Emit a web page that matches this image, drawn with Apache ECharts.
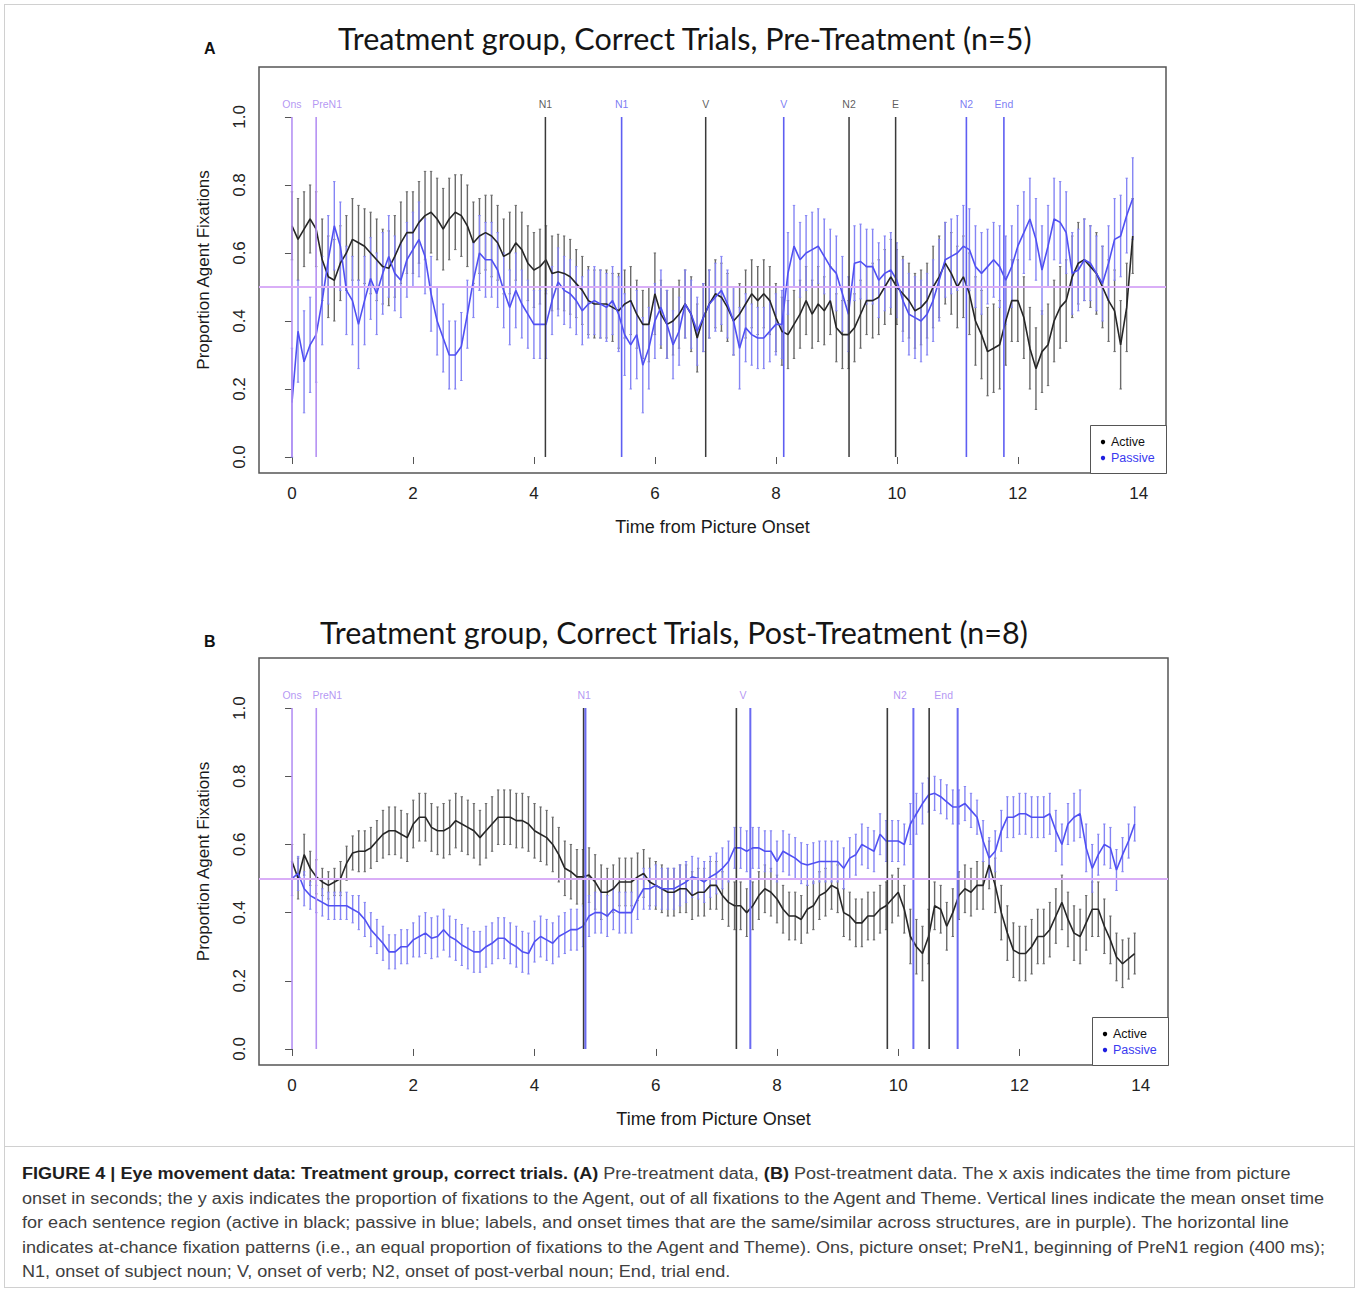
<!DOCTYPE html>
<html><head><meta charset="utf-8">
<script src="https://cdn.jsdelivr.net/npm/echarts@6/dist/echarts.min.js"></script>
<style>
html,body{margin:0;padding:0;background:#fff;}
#chart{position:absolute;left:0;top:0;width:1360px;height:1145px;}
#frame{position:absolute;left:4px;top:4px;width:1351px;height:1284px;border:1px solid #d0d0d0;box-sizing:border-box;pointer-events:none;}
#sep{position:absolute;left:4px;top:1146px;width:1351px;border-top:1px solid #d0d0d0;}
#caption{position:absolute;left:22px;top:1162px;font-family:"Liberation Sans",Arial,sans-serif;font-size:16px;line-height:24.5px;color:#404040;white-space:nowrap;transform-origin:0 0;}
#caption b{color:#1e1e1e;}
</style></head>
<body>
<div id="chart"></div>
<div id="frame"></div>
<div id="sep"></div>
<div id="caption">
<div id="cap2ref"><b>FIGURE 4 | Eye movement data: Treatment group, correct trials. (A)</b> Pre-treatment data, <b>(B)</b> Post-treatment data. The x axis indicates the time from picture</div>
<div id="capline2">onset in seconds; the y axis indicates the proportion of fixations to the Agent, out of all fixations to the Agent and Theme. Vertical lines indicate the mean onset time</div>
<div>for each sentence region (active in black; passive in blue; labels, and onset times that are the same/similar across structures, are in purple). The horizontal line</div>
<div>indicates at-chance fixation patterns (i.e., an equal proportion of fixations to the Agent and Theme). Ons, picture onset; PreN1, beginning of PreN1 region (400 ms);</div>
<div>N1, onset of subject noun; V, onset of verb; N2, onset of post-verbal noun; End, trial end.</div>
</div>
<script>
// ---------------- DATA ----------------
const TIME_STEP = 0.1;          // sampling step of the eye-tracking bins (s)
const N_BINS = 140;             // bins 0.0 .. 13.9 s
const TIME = Array.from({length: N_BINS}, (_, i) => +(i * TIME_STEP).toFixed(1));

const X_TICKS = [0, 2, 4, 6, 8, 10, 12, 14];
const Y_TICKS = [0.0, 0.2, 0.4, 0.6, 0.8, 1.0];
const CHANCE = 0.5;

const TITLE_A = 'Treatment group, Correct Trials, Pre-Treatment (n=5)';
const TITLE_B = 'Treatment group, Correct Trials, Post-Treatment (n=8)';
const X_NAME = 'Time from Picture Onset';
const Y_NAME = 'Proportion Agent Fixations';
const SERIES_NAMES = ['Active', 'Passive'];

// Panel A (pre-treatment) means
const A_ACTIVE = [
 0.68,0.64,0.67,0.70,0.67,0.58,0.53,0.52,0.57,0.60,
 0.64,0.63,0.62,0.60,0.58,0.56,0.555,0.59,0.63,0.66,
 0.66,0.69,0.71,0.72,0.70,0.67,0.70,0.72,0.71,0.68,
 0.63,0.65,0.66,0.65,0.63,0.59,0.60,0.63,0.61,0.57,
 0.55,0.56,0.58,0.54,0.545,0.54,0.53,0.51,0.49,0.46,
 0.45,0.45,0.45,0.44,0.43,0.45,0.46,0.42,0.39,0.39,
 0.48,0.42,0.39,0.40,0.42,0.45,0.42,0.35,0.41,0.45,
 0.48,0.47,0.44,0.40,0.42,0.45,0.48,0.46,0.48,0.46,
 0.41,0.37,0.36,0.39,0.42,0.46,0.42,0.45,0.43,0.46,
 0.38,0.36,0.36,0.38,0.42,0.46,0.46,0.47,0.50,0.53,
 0.50,0.48,0.46,0.43,0.44,0.46,0.50,0.53,0.57,0.54,
 0.50,0.53,0.48,0.40,0.36,0.31,0.32,0.33,0.40,0.46,
 0.46,0.41,0.32,0.26,0.31,0.33,0.40,0.44,0.46,0.53,
 0.57,0.58,0.56,0.54,0.50,0.46,0.43,0.33,0.44,0.65];
const A_PASSIVE = [
 0.16,0.37,0.28,0.33,0.36,0.46,0.58,0.68,0.62,0.49,
 0.46,0.39,0.46,0.525,0.48,0.54,0.59,0.54,0.52,0.58,
 0.61,0.64,0.59,0.48,0.40,0.35,0.30,0.30,0.325,0.42,
 0.52,0.60,0.58,0.58,0.55,0.49,0.44,0.49,0.45,0.42,
 0.39,0.39,0.39,0.46,0.515,0.49,0.48,0.46,0.43,0.45,
 0.46,0.45,0.44,0.46,0.42,0.36,0.33,0.36,0.27,0.32,
 0.40,0.44,0.39,0.33,0.37,0.45,0.42,0.37,0.41,0.45,
 0.47,0.49,0.45,0.40,0.32,0.38,0.36,0.35,0.35,0.37,
 0.39,0.39,0.54,0.62,0.58,0.60,0.61,0.62,0.59,0.56,
 0.54,0.48,0.42,0.57,0.575,0.56,0.56,0.52,0.54,0.55,
 0.52,0.46,0.42,0.41,0.40,0.42,0.46,0.52,0.58,0.59,
 0.60,0.62,0.61,0.56,0.54,0.56,0.58,0.56,0.52,0.56,
 0.62,0.66,0.70,0.64,0.55,0.62,0.70,0.69,0.66,0.54,
 0.55,0.58,0.57,0.54,0.51,0.57,0.64,0.65,0.71,0.76];
// Panel A error-bar half widths
const A_ACTIVE_ERR = [
 0.10,0.12,0.11,0.10,0.11,0.12,0.12,0.12,0.11,0.11,
 0.12,0.11,0.11,0.12,0.12,0.11,0.11,0.12,0.12,0.12,
 0.12,0.12,0.13,0.12,0.12,0.12,0.12,0.11,0.12,0.12,
 0.12,0.11,0.11,0.12,0.11,0.11,0.12,0.11,0.11,0.11,
 0.11,0.11,0.10,0.11,0.11,0.11,0.11,0.10,0.10,0.10,
 0.10,0.10,0.10,0.10,0.11,0.10,0.10,0.10,0.10,0.11,
 0.12,0.10,0.10,0.10,0.10,0.10,0.11,0.10,0.10,0.10,
 0.10,0.10,0.10,0.10,0.09,0.10,0.10,0.10,0.10,0.10,
 0.10,0.10,0.10,0.10,0.10,0.10,0.10,0.11,0.10,0.10,
 0.10,0.10,0.10,0.10,0.10,0.10,0.11,0.11,0.11,0.11,
 0.11,0.11,0.11,0.11,0.11,0.11,0.12,0.12,0.12,0.12,
 0.12,0.12,0.12,0.13,0.13,0.13,0.13,0.13,0.13,0.12,
 0.12,0.12,0.12,0.12,0.12,0.12,0.12,0.12,0.12,0.12,
 0.12,0.12,0.12,0.12,0.12,0.12,0.12,0.13,0.13,0.11];
const A_PASSIVE_ERR = [
 0.16,0.15,0.15,0.14,0.14,0.13,0.13,0.13,0.13,0.13,
 0.13,0.13,0.13,0.12,0.12,0.12,0.12,0.11,0.11,0.11,
 0.11,0.11,0.11,0.11,0.10,0.10,0.10,0.10,0.10,0.10,
 0.11,0.11,0.11,0.11,0.11,0.11,0.11,0.11,0.10,0.10,
 0.10,0.10,0.10,0.10,0.10,0.10,0.10,0.10,0.10,0.10,
 0.10,0.10,0.10,0.10,0.11,0.12,0.13,0.13,0.14,0.12,
 0.11,0.11,0.10,0.10,0.10,0.10,0.10,0.10,0.10,0.10,
 0.10,0.10,0.10,0.10,0.12,0.10,0.09,0.09,0.09,0.09,
 0.09,0.10,0.12,0.12,0.11,0.11,0.11,0.11,0.11,0.11,
 0.11,0.11,0.11,0.11,0.11,0.11,0.11,0.11,0.11,0.11,
 0.11,0.12,0.12,0.12,0.12,0.12,0.12,0.12,0.11,0.11,
 0.11,0.12,0.12,0.12,0.12,0.11,0.11,0.12,0.13,0.12,
 0.12,0.12,0.12,0.12,0.13,0.12,0.12,0.12,0.12,0.12,
 0.12,0.12,0.11,0.11,0.11,0.11,0.12,0.12,0.11,0.12];

// Panel B (post-treatment) means
const B_ACTIVE = [
 0.55,0.50,0.57,0.53,0.505,0.49,0.48,0.49,0.50,0.545,
 0.575,0.58,0.58,0.59,0.61,0.63,0.64,0.64,0.63,0.62,
 0.66,0.68,0.68,0.65,0.64,0.64,0.65,0.67,0.66,0.65,
 0.64,0.62,0.64,0.66,0.68,0.68,0.68,0.67,0.67,0.66,
 0.64,0.63,0.62,0.60,0.57,0.53,0.52,0.505,0.505,0.51,
 0.49,0.46,0.46,0.47,0.49,0.49,0.49,0.505,0.515,0.49,
 0.48,0.47,0.46,0.46,0.47,0.47,0.45,0.46,0.46,0.48,
 0.48,0.45,0.43,0.42,0.42,0.40,0.42,0.45,0.47,0.46,
 0.44,0.41,0.39,0.39,0.38,0.41,0.42,0.45,0.46,0.48,
 0.47,0.40,0.39,0.37,0.37,0.39,0.39,0.41,0.42,0.44,
 0.46,0.41,0.33,0.30,0.28,0.33,0.42,0.41,0.36,0.40,
 0.45,0.47,0.46,0.48,0.48,0.54,0.48,0.40,0.34,0.29,
 0.28,0.28,0.30,0.33,0.33,0.35,0.39,0.43,0.38,0.34,
 0.33,0.37,0.41,0.41,0.36,0.32,0.27,0.25,0.265,0.28];
const B_PASSIVE = [
 0.50,0.515,0.47,0.45,0.44,0.43,0.42,0.42,0.42,0.42,
 0.41,0.40,0.38,0.35,0.33,0.31,0.285,0.285,0.30,0.30,
 0.32,0.33,0.34,0.325,0.33,0.35,0.33,0.32,0.305,0.295,
 0.285,0.285,0.30,0.31,0.325,0.325,0.31,0.30,0.285,0.28,
 0.315,0.33,0.32,0.31,0.33,0.34,0.35,0.35,0.36,0.39,
 0.40,0.40,0.39,0.41,0.40,0.40,0.40,0.44,0.47,0.47,
 0.48,0.47,0.47,0.47,0.48,0.49,0.505,0.50,0.49,0.505,
 0.515,0.53,0.55,0.59,0.59,0.58,0.59,0.59,0.58,0.58,
 0.55,0.58,0.57,0.56,0.545,0.54,0.545,0.55,0.55,0.55,
 0.55,0.53,0.56,0.57,0.60,0.59,0.58,0.63,0.61,0.61,
 0.61,0.60,0.66,0.69,0.72,0.745,0.75,0.74,0.725,0.71,
 0.71,0.72,0.70,0.68,0.61,0.56,0.58,0.64,0.68,0.68,
 0.69,0.69,0.68,0.68,0.68,0.69,0.64,0.60,0.66,0.68,
 0.69,0.59,0.53,0.57,0.60,0.59,0.525,0.57,0.61,0.66];
const B_ACTIVE_ERR = [
 0.05,0.06,0.06,0.05,0.05,0.04,0.04,0.04,0.05,0.05,
 0.05,0.06,0.06,0.06,0.06,0.07,0.07,0.07,0.07,0.07,
 0.07,0.07,0.07,0.07,0.07,0.08,0.08,0.08,0.08,0.08,
 0.08,0.08,0.08,0.08,0.08,0.08,0.08,0.08,0.08,0.08,
 0.08,0.08,0.08,0.08,0.08,0.08,0.08,0.08,0.08,0.08,
 0.08,0.08,0.07,0.07,0.07,0.07,0.07,0.07,0.07,0.07,
 0.07,0.07,0.07,0.07,0.07,0.07,0.07,0.07,0.07,0.07,
 0.07,0.07,0.07,0.07,0.07,0.07,0.07,0.07,0.07,0.07,
 0.07,0.07,0.07,0.07,0.07,0.07,0.07,0.07,0.07,0.07,
 0.07,0.07,0.07,0.07,0.07,0.07,0.07,0.07,0.07,0.07,
 0.07,0.07,0.08,0.08,0.08,0.08,0.07,0.07,0.07,0.07,
 0.07,0.07,0.07,0.07,0.07,0.07,0.08,0.08,0.08,0.08,
 0.08,0.08,0.08,0.08,0.08,0.08,0.08,0.08,0.08,0.08,
 0.08,0.08,0.08,0.08,0.08,0.07,0.07,0.07,0.06,0.06];
const B_PASSIVE_ERR = [
 0.05,0.05,0.05,0.04,0.04,0.04,0.04,0.04,0.04,0.04,
 0.04,0.05,0.05,0.05,0.05,0.05,0.05,0.05,0.05,0.05,
 0.05,0.06,0.06,0.06,0.06,0.06,0.06,0.06,0.06,0.06,
 0.06,0.06,0.06,0.06,0.06,0.06,0.06,0.06,0.06,0.06,
 0.06,0.06,0.06,0.06,0.06,0.06,0.06,0.06,0.06,0.06,
 0.06,0.06,0.06,0.06,0.06,0.06,0.06,0.06,0.06,0.06,
 0.06,0.06,0.06,0.06,0.06,0.06,0.06,0.06,0.06,0.06,
 0.06,0.06,0.06,0.06,0.06,0.06,0.06,0.06,0.06,0.06,
 0.06,0.06,0.06,0.06,0.06,0.06,0.06,0.06,0.06,0.06,
 0.06,0.06,0.06,0.06,0.06,0.06,0.06,0.06,0.06,0.06,
 0.06,0.06,0.06,0.06,0.06,0.05,0.05,0.05,0.05,0.05,
 0.05,0.05,0.05,0.05,0.06,0.06,0.06,0.06,0.06,0.06,
 0.06,0.06,0.06,0.06,0.06,0.06,0.06,0.06,0.06,0.07,
 0.07,0.07,0.07,0.06,0.06,0.06,0.06,0.05,0.05,0.05];

// Region onset times (s)
const A_ONSET_SHARED  = [0, 0.4];
const A_ONSET_ACTIVE  = [4.19, 6.84, 9.21, 9.98];
const A_ONSET_PASSIVE = [5.45, 8.13, 11.15, 11.77];
const A_LABEL_SHARED  = ['Ons', 'PreN1'];
const A_LABEL_ACTIVE  = ['N1', 'V', 'N2', 'E'];
const A_LABEL_PASSIVE = ['N1', 'V', 'N2', 'End'];

const B_ONSET_SHARED  = [0, 0.4];
const B_ONSET_ACTIVE  = [4.81, 7.33, 9.82, 10.51];
const B_ONSET_PASSIVE = [4.84, 7.56, 10.25, 10.98];
const B_LABEL_TIMES   = [0, 0.4, 4.82, 7.44, 10.03, 10.75];
const B_LABELS        = ['Ons', 'PreN1', 'N1', 'V', 'N2', 'End'];

// ---------------- STYLE ----------------
const XMIN = -0.545, XMAX = 14.45, YMIN = -0.047, YMAX = 1.147;
const LABEL_Y = 1.038, VLINE_TOP = 1.0;
const C_BLACK = '#262626', C_BLACK_ERR = '#6a6a6a';
const C_BLUE = '#5050f2', C_BLUE_ERR = '#8585f4';
const C_PURPLE = '#b591f3', C_PURPLE_TXT = '#a27cf0', C_HLINE = '#d9aef7';
const C_BLUE_TXT = '#5a5af0', C_BLACK_TXT = '#333';
const FONT = '"Liberation Sans", Arial, sans-serif';

const chart = echarts.init(document.getElementById('chart'), null, {renderer: 'svg'});

function xAxisCfg(gi) {
  return {type: 'value', gridIndex: gi, min: XMIN, max: XMAX,
    axisLine: {show: false}, splitLine: {show: false},
    axisTick: {show: true, customValues: X_TICKS, length: 7, lineStyle: {color: '#555', width: 1}},
    axisLabel: {customValues: X_TICKS, fontSize: 17, color: '#222', margin: 12, fontFamily: FONT},
    name: X_NAME, nameLocation: 'middle', nameGap: 45,
    nameTextStyle: {fontSize: 18, color: '#1a1a1a', fontFamily: FONT}};
}
function yAxisCfg(gi) {
  return {type: 'value', gridIndex: gi, min: YMIN, max: YMAX,
    axisLine: {show: false}, splitLine: {show: false},
    axisTick: {show: true, customValues: Y_TICKS, length: 7, lineStyle: {color: '#555', width: 1}},
    axisLabel: {customValues: Y_TICKS, rotate: 90, fontSize: 17, color: '#222', margin: 11, fontFamily: FONT,
      formatter: v => v.toFixed(1)},
    name: Y_NAME, nameLocation: 'middle', nameGap: 47, nameRotate: 90,
    nameTextStyle: {fontSize: 17, color: '#1a1a1a', fontFamily: FONT}};
}
function errSeries(gi, means, errs, color) {
  return {type: 'custom', xAxisIndex: gi, yAxisIndex: gi, silent: true, z: 1,
    data: TIME.map((t, i) => [t, means[i], errs[i]]),
    renderItem: (params, api) => {
      const x = api.value(0), y = api.value(1), e = api.value(2);
      const p1 = api.coord([x, y + e]), p2 = api.coord([x, y - e]);
      return {type: 'group', children: [
        {type: 'line', shape: {x1: p1[0], y1: p1[1], x2: p2[0], y2: p2[1]}, style: {stroke: color, lineWidth: 1.4}},
        {type: 'line', shape: {x1: p1[0] - 1.2, y1: p1[1], x2: p1[0] + 1.2, y2: p1[1]}, style: {stroke: color, lineWidth: 1}},
        {type: 'line', shape: {x1: p2[0] - 1.2, y1: p2[1], x2: p2[0] + 1.2, y2: p2[1]}, style: {stroke: color, lineWidth: 1}}
      ]};
    }};
}
function meanSeries(gi, name, means, color, withChance) {
  const s = {type: 'line', name, xAxisIndex: gi, yAxisIndex: gi, z: 2, silent: true,
    data: TIME.map((t, i) => [t, means[i]]), showSymbol: false, animation: false,
    lineStyle: {color, width: 1.6}, itemStyle: {color}};
  if (withChance) {
    s.markLine = {silent: true, symbol: 'none', label: {show: false}, animation: false,
      lineStyle: {color: C_HLINE, width: 2.2, type: 'solid'}, data: [{yAxis: CHANCE}]};
  }
  return s;
}
function vlineSeries(gi, onsets, color, width) {
  return {type: 'custom', xAxisIndex: gi, yAxisIndex: gi, silent: true, z: 3,
    data: onsets.map(t => [t]),
    renderItem: (params, api) => {
      const t = api.value(0);
      const a = api.coord([t, 0]), b = api.coord([t, VLINE_TOP]);
      return {type: 'line', shape: {x1: a[0], y1: a[1], x2: b[0], y2: b[1]}, style: {stroke: color, lineWidth: width}};
    }};
}
function labelSeries(gi, times, labels, color) {
  return {type: 'scatter', xAxisIndex: gi, yAxisIndex: gi, silent: true, z: 4, symbolSize: 0,
    data: times.map((t, i) => ({value: [t, LABEL_Y], name: labels[i],
      label: {offset: [labels[i] === 'PreN1' ? 11 : 0, 0]}})),
    label: {show: true, position: 'inside', formatter: p => p.name, color, fontSize: 10.5, fontFamily: FONT}};
}
function legendGraphic(left, top) {
  return [
    {type: 'rect', left, top, shape: {width: 76, height: 48}, style: {fill: '#fff', stroke: '#555', lineWidth: 1}, z: 50},
    {type: 'circle', shape: {cx: left + 13, cy: top + 17, r: 2.2}, style: {fill: '#000'}, z: 51},
    {type: 'text', x: left + 21, y: top + 17, style: {text: SERIES_NAMES[0], fill: '#111', fontSize: 12.5, fontFamily: FONT, verticalAlign: 'middle'}, z: 51},
    {type: 'circle', shape: {cx: left + 13, cy: top + 33, r: 2.2}, style: {fill: '#2020e0'}, z: 51},
    {type: 'text', x: left + 21, y: top + 33, style: {text: SERIES_NAMES[1], fill: '#3a3af0', fontSize: 12.5, fontFamily: FONT, verticalAlign: 'middle'}, z: 51}
  ];
}

const option = {
  animation: false,
  backgroundColor: '#fff',
  title: [
    {text: 'A', left: 199, top: 35, textStyle: {fontSize: 16, fontWeight: 'bold', color: '#111', fontFamily: FONT}},
    {text: TITLE_A, left: 333, top: 17, textStyle: {fontSize: 30.5, fontWeight: 'normal', color: '#151515', fontFamily: 'Lato'}},
    {text: 'B', left: 199, top: 628, textStyle: {fontSize: 16, fontWeight: 'bold', color: '#111', fontFamily: FONT}},
    {text: TITLE_B, left: 315, top: 611, textStyle: {fontSize: 30.5, fontWeight: 'normal', color: '#151515', fontFamily: 'Lato'}}
  ],
  grid: [
    {left: 259, top: 67, width: 907, height: 406, show: true, borderColor: '#555', borderWidth: 1.5, backgroundColor: 'transparent'},
    {left: 259, top: 658, width: 909, height: 407, show: true, borderColor: '#555', borderWidth: 1.5, backgroundColor: 'transparent'}
  ],
  xAxis: [xAxisCfg(0), xAxisCfg(1)],
  yAxis: [yAxisCfg(0), yAxisCfg(1)],
  series: [
    errSeries(0, A_ACTIVE, A_ACTIVE_ERR, C_BLACK_ERR),
    errSeries(0, A_PASSIVE, A_PASSIVE_ERR, C_BLUE_ERR),
    meanSeries(0, SERIES_NAMES[0], A_ACTIVE, C_BLACK, false),
    meanSeries(0, SERIES_NAMES[1], A_PASSIVE, C_BLUE, true),
    vlineSeries(0, A_ONSET_SHARED, C_PURPLE, 1.6),
    vlineSeries(0, A_ONSET_ACTIVE, '#3a3a3a', 1.5),
    vlineSeries(0, A_ONSET_PASSIVE, '#5e5ef2', 1.6),
    labelSeries(0, A_ONSET_SHARED, A_LABEL_SHARED, C_PURPLE_TXT),
    labelSeries(0, A_ONSET_ACTIVE, A_LABEL_ACTIVE, C_BLACK_TXT),
    labelSeries(0, A_ONSET_PASSIVE, A_LABEL_PASSIVE, C_BLUE_TXT),

    errSeries(1, B_ACTIVE, B_ACTIVE_ERR, C_BLACK_ERR),
    errSeries(1, B_PASSIVE, B_PASSIVE_ERR, C_BLUE_ERR),
    meanSeries(1, SERIES_NAMES[0], B_ACTIVE, C_BLACK, false),
    meanSeries(1, SERIES_NAMES[1], B_PASSIVE, C_BLUE, true),
    vlineSeries(1, B_ONSET_SHARED, C_PURPLE, 1.6),
    vlineSeries(1, B_ONSET_ACTIVE, '#3a3a3a', 1.6),
    vlineSeries(1, B_ONSET_PASSIVE, '#6a6af2', 2),
    labelSeries(1, B_LABEL_TIMES, B_LABELS, C_PURPLE_TXT)
  ],
  graphic: legendGraphic(1090, 425).concat(legendGraphic(1092, 1017))
};
chart.setOption(option);

// fit caption width to the reference line length
const cap = document.getElementById('caption');
const l2 = document.getElementById('capline2');
const w = l2.getBoundingClientRect().width;
cap.style.transform = 'scaleX(' + (1303 / w) + ')';
</script>
</body></html>
